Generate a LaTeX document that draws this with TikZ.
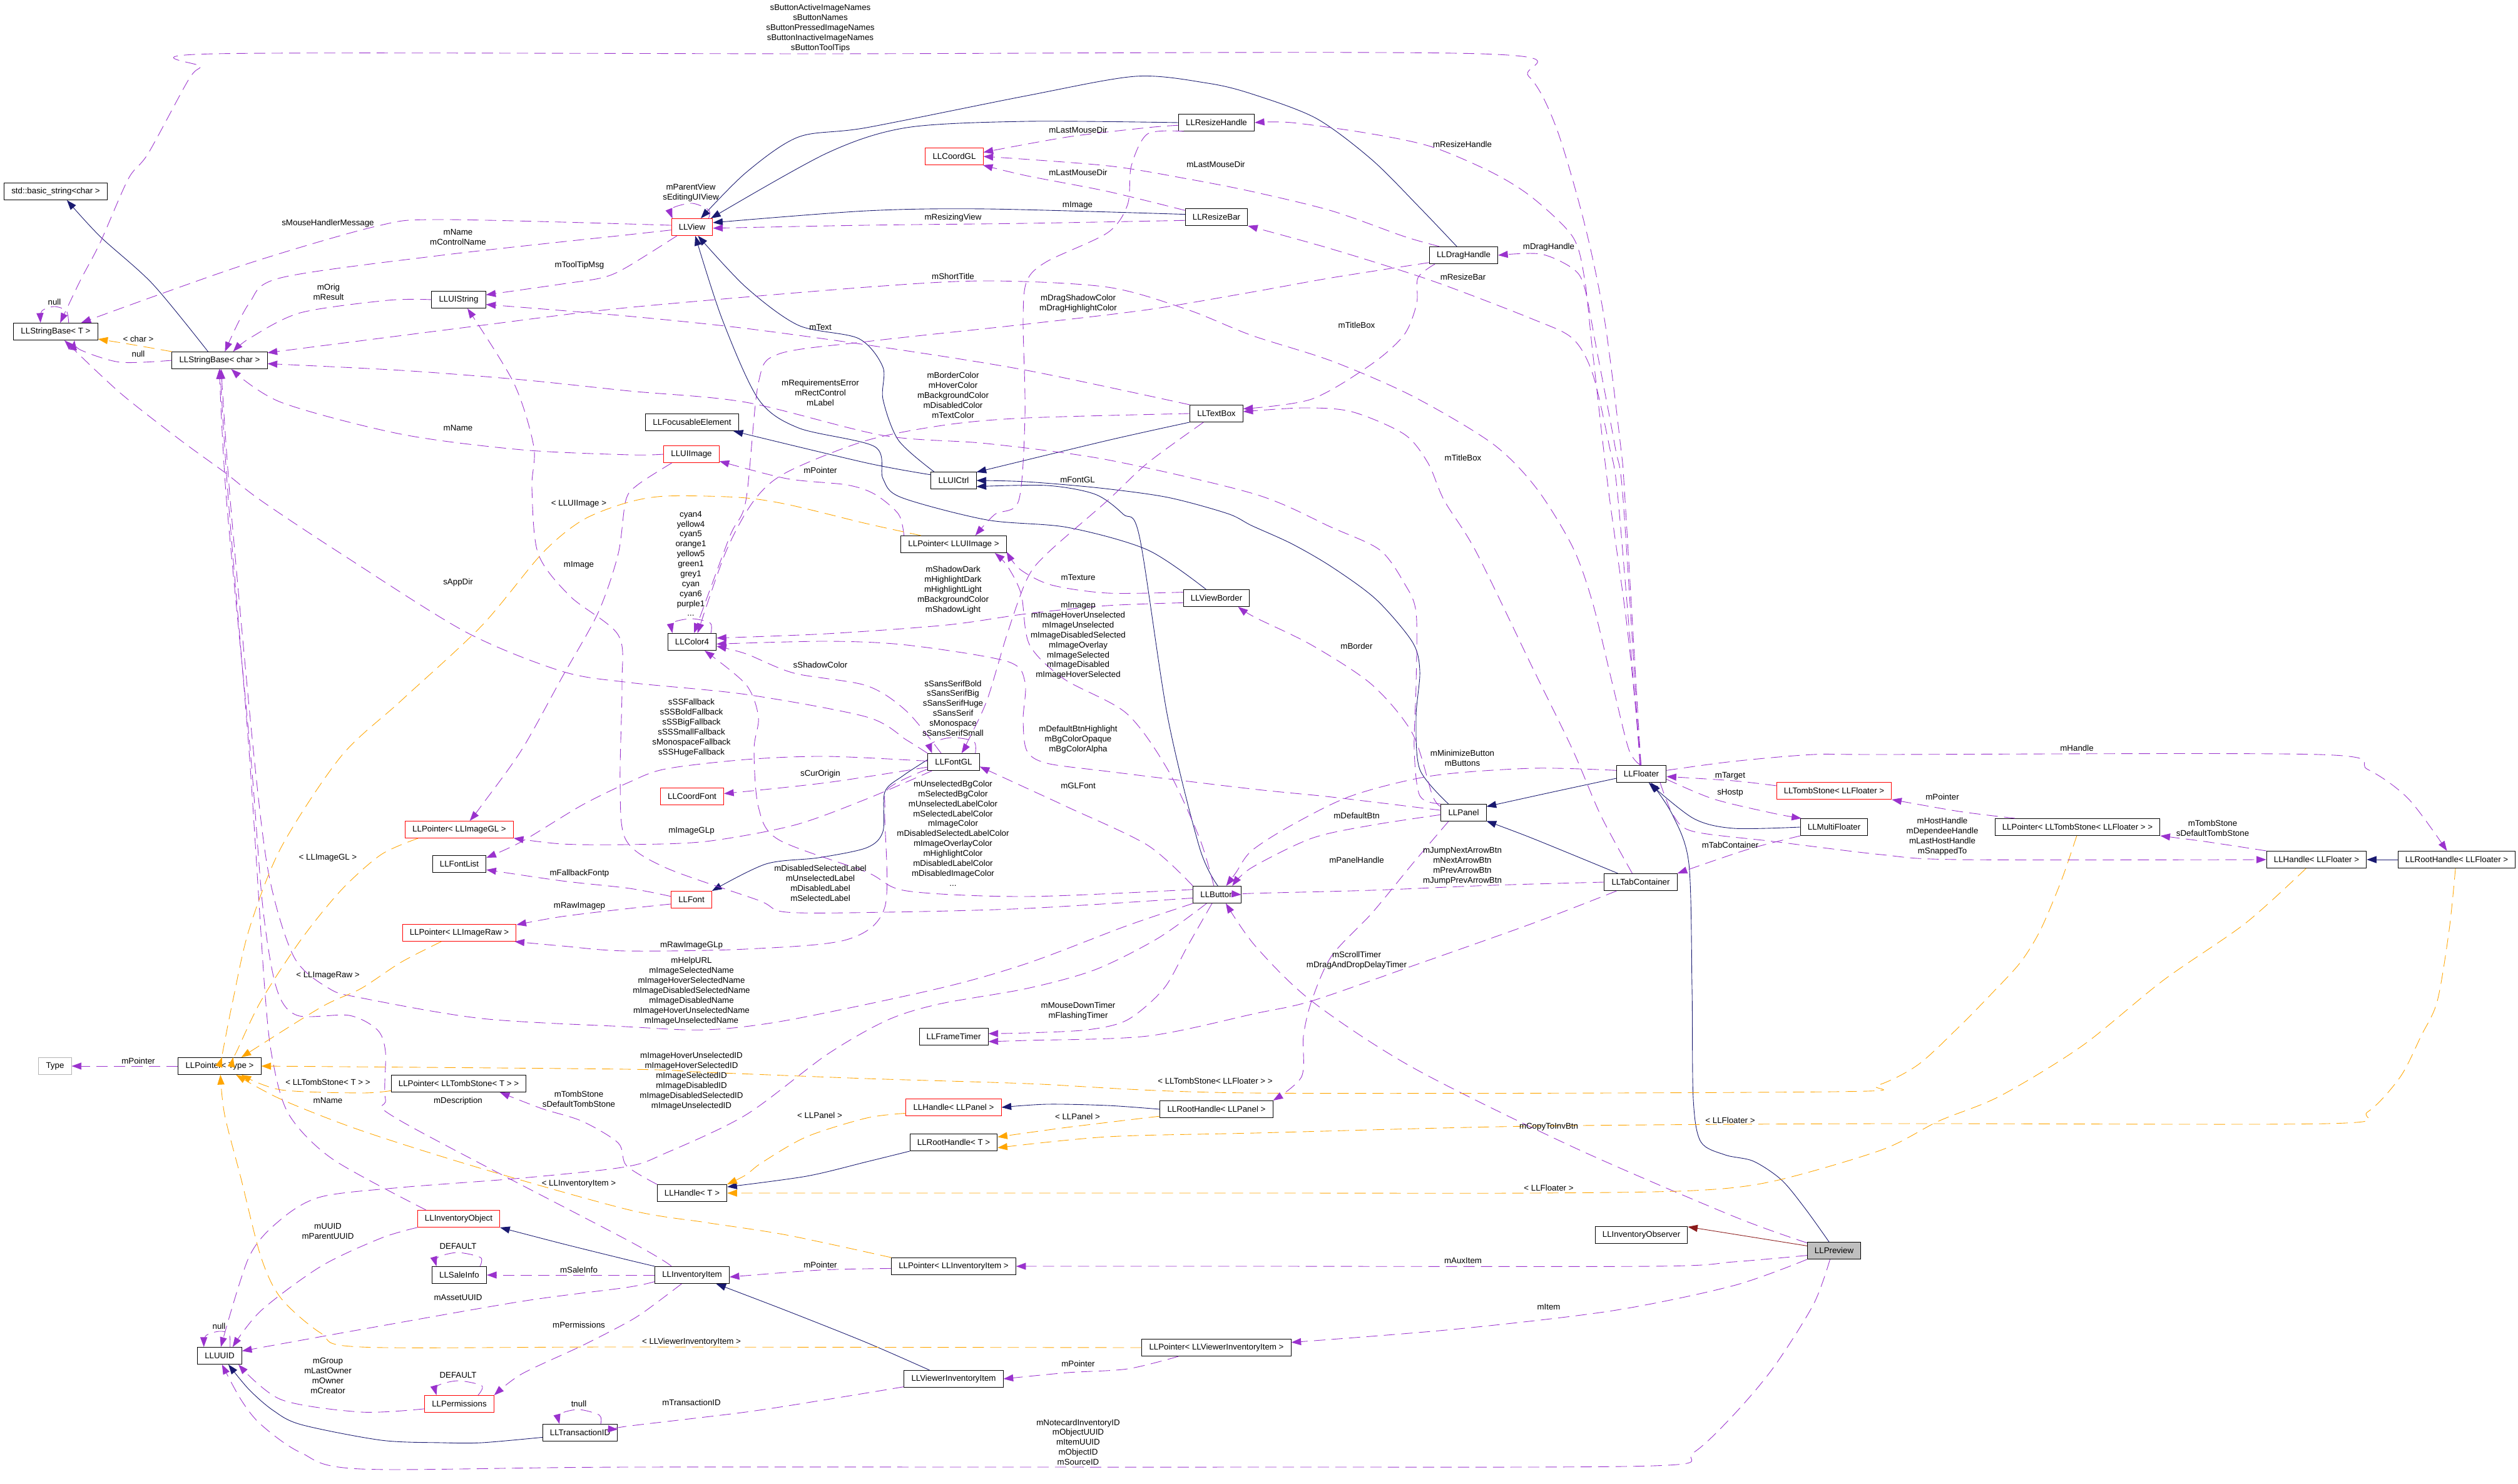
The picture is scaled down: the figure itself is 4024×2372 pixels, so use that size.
\documentclass[tikz,border=0pt]{standalone}
\usepackage{fontspec}
\setmainfont{Liberation Sans}
\usetikzlibrary{arrows.meta}
\definecolor{usecol}{RGB}{154,50,205}
\definecolor{inhcol}{RGB}{25,25,112}
\definecolor{tplcol}{RGB}{255,165,0}
\definecolor{prvcol}{RGB}{139,26,26}
\tikzset{
  cls/.style={draw, line width=0.25pt, inner xsep=2.9pt, inner ysep=0pt, minimum height=6.75pt, font=\fontsize{3.33}{4}\selectfont},
  redcls/.style={cls, draw=red},
  lbl/.style={inner sep=0pt, align=center, font=\fontsize{3.33}{3.97}\selectfont},
  wire/.style={line width=0.22pt, -{Triangle[length=3.9pt,width=2.8pt]}},
  usage/.style={wire, draw=usecol, dash pattern=on 4.5pt off 2.5pt},
  tmpl/.style={wire, draw=tplcol, dash pattern=on 4.5pt off 2.5pt},
  inherit/.style={wire, draw=inhcol},
  privinh/.style={wire, draw=prvcol},
}
\begin{document}
\begin{tikzpicture}[x=0.25pt,y=-0.25pt]
\useasboundingbox (0,0) rectangle (4024,2372);

\node[cls] (bstr) at (89,306) {std::basic\_string<char >};
\node[cls] (sbT) at (89,530) {LLStringBase< T >};
\node[cls] (sbChar) at (351,576) {LLStringBase< char >};
\node[cls] (uistr) at (733,479) {LLUIString};
\node[redcls] (view) at (1106,363) {LLView};
\node[redcls] (coordgl) at (1525,250) {LLCoordGL};
\node[cls] (rhandle) at (1944,196) {LLResizeHandle};
\node[cls] (rbar) at (1944,347) {LLResizeBar};
\node[cls] (drag) at (2339,408) {LLDragHandle};
\node[cls] (focus) at (1106,675) {LLFocusableElement};
\node[redcls] (uiimage) at (1105,726) {LLUIImage};
\node[cls] (textbox) at (1944,661) {LLTextBox};
\node[cls] (uictrl) at (1524,768) {LLUICtrl};
\node[cls] (ptrui) at (1524,870) {LLPointer< LLUIImage >};
\node[cls] (border) at (1944,956) {LLViewBorder};
\node[cls] (color) at (1106,1026) {LLColor4};
\node[cls] (fontgl) at (1524,1218) {LLFontGL};
\node[redcls] (coordfont) at (1106,1273) {LLCoordFont};
\node[redcls] (ptrgl) at (734,1326) {LLPointer< LLImageGL >};
\node[cls] (fontlist) at (734,1381) {LLFontList};
\node[redcls] (font) at (1105,1438) {LLFont};
\node[redcls] (ptrraw) at (734,1491) {LLPointer< LLImageRaw >};
\node[cls] (button) at (1945,1430) {LLButton};
\node[cls] (timer) at (1524,1657) {LLFrameTimer};
\node[redcls] (hpanel) at (1524,1770) {LLHandle< LLPanel >};
\node[cls] (rpanel) at (1944,1773) {LLRootHandle< LLPanel >};
\node[cls] (rootT) at (1524,1826) {LLRootHandle< T >};
\node[cls] (handleT) at (1106,1907) {LLHandle< T >};
\node[cls] (ptritem) at (1524,2024) {LLPointer< LLInventoryItem >};
\node[cls] (item) at (1106,2038) {LLInventoryItem};
\node[cls] (ptrvitem) at (1944,2154) {LLPointer< LLViewerInventoryItem >};
\node[cls] (vitem) at (1524,2204) {LLViewerInventoryItem};
\node[cls, draw=black!30] (type) at (88,1704) {Type};
\node[cls] (ptrtype) at (351,1704) {LLPointer< Type >};
\node[cls] (ptrtombT) at (733,1732) {LLPointer< LLTombStone< T > >};
\node[redcls] (invobj) at (733,1948) {LLInventoryObject};
\node[cls] (sale) at (734,2038) {LLSaleInfo};
\node[cls] (uuid) at (351,2167) {LLUUID};
\node[redcls] (perm) at (734,2244) {LLPermissions};
\node[cls] (transid) at (927,2290) {LLTransactionID};
\node[cls] (floater) at (2623,1237) {LLFloater};
\node[redcls] (tombfl) at (2931,1264) {LLTombStone< LLFloater >};
\node[cls] (panel) at (2339,1299) {LLPanel};
\node[cls] (multi) at (2931,1322) {LLMultiFloater};
\node[cls] (tabs) at (2622,1410) {LLTabContainer};
\node[cls] (ptrtombfl) at (3320,1322) {LLPointer< LLTombStone< LLFloater > >};
\node[cls] (hfloater) at (3702,1374) {LLHandle< LLFloater >};
\node[cls] (rfloater) at (3926,1374) {LLRootHandle< LLFloater >};
\node[cls] (observer) at (2623,1974) {LLInventoryObserver};
\node[cls, fill=black!25] (preview) at (2931,1999) {LLPreview};

% inheritance
\draw[inherit] plot[smooth] coordinates {(sbChar.143) (244,454) (160,378) (bstr.-38)};
\draw[inherit] plot[smooth] coordinates {(rhandle.west) (1641,194) (1449,204) (1321,245) (view.25)};
\draw[inherit] plot[smooth] coordinates {(drag.128) (2269,332) (2192,255) (2103,189) (2000,150) (1930,133) (1815,122) (1641,153) (1385,204) (1276,219) (1192,276) (view.45)};
\draw[inherit] plot[smooth] coordinates {(rbar.175) (1577,334) (1385,337) (view.12)};
\draw[inherit] plot[smooth] coordinates {(uictrl.156) (1436,704) (1411,638) (1411,587) (1372,541) (1276,520) (1192,459) (view.-56)};
\draw[inherit] plot[smooth] coordinates {(border.140) (1834,879) (1706,843) (1577,831) (1440,795) (1411,765) (1398,714) (1276,684) (1212,638) (1154,510) (view.-70)};
\draw[inherit] plot[smooth] coordinates {(uictrl.166) (1385,740) (focus.-12)};
\draw[inherit] plot[smooth] coordinates {(textbox.-162) (1770,704) (uictrl.20)};
\draw[inherit] plot[smooth] coordinates {(button.85) (1917,1355) (1866,1146) (1821,858) (1795,822) (1750,790) (1673,776) (uictrl.-15)};
\draw[inherit] plot[smooth] coordinates {(panel.150) (2269,1230) (2263,1146) (2269,1073) (2257,1026) (2199,958) (2128,906) (2064,869) (2000,840) (1962,821) (1866,795) (1757,780) (1640,770) (uictrl.0)};
\draw[inherit] plot[smooth] coordinates {(fontgl.175) (1443,1240) (1414,1266) (1411,1329) (1385,1355) (1308,1371) (1224,1381) (font.north east)};
\draw[inherit] plot[smooth] coordinates {(floater.-170) (2481,1266) (panel.15)};
\draw[inherit] plot[smooth] coordinates {(tabs.159) (2449,1340) (panel.-20)};
\draw[inherit] plot[smooth] coordinates {(multi.west) (2770,1324) (2706,1308) (floater.-50)};
\draw[inherit] plot[smooth] coordinates {(preview.120) (2885,1932) (2847,1886) (2802,1856) (2757,1846) (2718,1825) (2706,1757) (2704,1580) (2699,1381) (2673,1303) (floater.-42)};
\draw[inherit] (rfloater.west) -- (hfloater.east);
\draw[inherit] plot[smooth] coordinates {(rpanel.west) (1770,1767) (1673,1765) (hpanel.east)};
\draw[inherit] plot[smooth] coordinates {(rootT.south west) (1385,1857) (1289,1880) (handleT.10)};
\draw[inherit] plot[smooth] coordinates {(item.north west) (1000,2013) (899,1988) (invobj.south east)};
\draw[inherit] plot[smooth] coordinates {(vitem.160) (1385,2146) (1257,2095) (item.-20)};
\draw[inherit] plot[smooth] coordinates {(transid.-173) (770,2306) (706,2306) (609,2302) (481,2277) (436,2254) (398,2221) (uuid.-45)};
\draw[privinh] (preview.170) -- (observer.10);

% members
\draw[usage] plot[smooth] coordinates {(sbT.34) (106,497) (87,490) (67,497) (sbT.150)};
\draw[tmpl] plot[smooth] coordinates {(sbChar.north west) (212,551) (sbT.-10)};
\draw[usage] plot[smooth] coordinates {(sbChar.west) (192,579) (128,559) (sbT.-25)};
\draw[usage] plot[smooth] coordinates {(view.175) (706,351) (600,362) (385,425) (sbT.19)};
\draw[usage] plot[smooth] coordinates {(floater.93) (2597,800) (2590,714) (2564,510) (2532,357) (2487,204) (2443,122) (2366,86) (1311,86) (343,86) (321,107) (301,128) (237,245) (205,286) (160,388) (128,449) (sbT.63)};
\draw[usage] plot[smooth] coordinates {(fontgl.north west) (1449,1183) (1385,1146) (1192,1110) (1006,1091) (898,1073) (744,1010) (545,885) (417,800) (359,755) (289,704) (192,628) (sbT.-45)};
\draw[usage] plot[smooth] coordinates {(view.-172) (1006,375) (706,408) (449,444) (398,485) (sbChar.59)};
\draw[usage] plot[smooth] coordinates {(uistr.west) (620,480) (480,500) (400,540) (sbChar.33)};
\draw[usage] plot[smooth] coordinates {(floater.95) (2603,1198) (2577,1094) (2545,963) (2513,874) (2455,780) (2385,709) (2257,633) (2128,577) (2000,536) (1898,495) (1770,459) (1577,449) (1385,459) (1000,492) (770,520) (sbChar.9)};
\draw[usage] plot[smooth] coordinates {(panel.north west) (2269,1272) (2260,1198) (2263,1094) (2263,979) (2244,932) (2205,879) (2128,843) (2006,790) (1770,735) (1577,709) (1411,696) (1192,643) (1006,625) (834,607) (641,592) (sbChar.-4)};
\draw[usage] plot[smooth] coordinates {(uiimage.west) (1006,727) (834,719) (641,694) (449,643) (sbChar.-37)};
\draw[usage] plot[smooth] coordinates {(invobj.165) (532,1853) (462,1782) (436,1696) (423,1580) (398,1200) (365,800) (sbChar.-88)};
\draw[usage] plot[smooth] coordinates {(item.157) (1006,1984) (641,1792) (616,1757) (616,1681) (603,1646) (558,1623) (475,1623) (442,1580) (420,1450) (400,1200) (362,800) (sbChar.-92)};
\draw[usage] plot[smooth] coordinates {(button.-160) (1800,1480) (1641,1540) (1500,1580) (1257,1631) (1128,1646) (1000,1641) (770,1628) (577,1595) (526,1580) (470,1530) (430,1400) (405,1200) (368,800) (sbChar.-80)};
\draw[usage] plot[smooth] coordinates {(view.-150) (1000,428) (962,444) (898,454) (uistr.10)};
\draw[usage] plot[smooth] coordinates {(textbox.north west) (1641,592) (1417,556) (1192,525) (1000,505) (uistr.-10)};
\draw[usage] plot[smooth] coordinates {(button.-172) (1641,1452) (1417,1458) (1257,1458) (1212,1439) (1064,1387) (1000,1342) (991,1251) (994,1094) (988,1015) (911,953) (860,885) (850,780) (853,714) (821,612) (uistr.-45)};
\draw[usage] plot[smooth] coordinates {(button.168) (1641,1433) (1449,1424) (1385,1394) (1244,1342) (1212,1290) (1205,1198) (1212,1146) (1192,1094) (color.-35)};
\draw[usage] plot[smooth] coordinates {(view.28) (1133,336) (1106,325) (1074,333) (view.156)};
\draw[usage] plot[smooth] coordinates {(rbar.-174) (1641,357) (1385,360) (view.-3)};
\draw[usage] plot[smooth] coordinates {(rhandle.-176) (1834,204) (1706,219) (coordgl.8)};
\draw[usage] plot[smooth] coordinates {(rbar.168) (1770,306) (1641,281) (coordgl.-17)};
\draw[usage] plot[smooth] coordinates {(drag.160) (2244,378) (2128,337) (2000,306) (1898,286) (1770,265) (coordgl.0)};
\draw[usage] plot[smooth] coordinates {(floater.91) (2600,1000) (2570,780) (2545,561) (2532,444) (2513,378) (2449,316) (2385,276) (2289,235) (2192,214) (2064,196) (rhandle.east)};
\draw[usage] plot[smooth] coordinates {(floater.97) (2586,800) (2572,714) (2545,597) (2513,541) (2449,510) (2289,449) (2128,398) (rbar.south east)};
\draw[usage] plot[smooth] coordinates {(floater.99) (2594,800) (2581,714) (2552,561) (2532,459) (2513,429) (2462,406) (drag.east)};
\draw[usage] plot[smooth] coordinates {(drag.-163) (2266,444) (2264,485) (2244,535) (2192,582) (2096,638) (textbox.10)};
\draw[usage] plot[smooth] coordinates {(tabs.134) (2558,1303) (2513,1198) (2449,1067) (2359,882) (2308,800) (2282,740) (2244,694) (2160,658) (2083,652) (textbox.4)};
\draw[usage] plot[smooth] coordinates {(color.25) (1135,996) (1106,989) (1076,995) (color.156)};
\draw[usage] plot[smooth] coordinates {(drag.-168) (2128,444) (2000,467) (1834,495) (1641,518) (1385,546) (1244,566) (1212,612) (1192,800) (1166,858) (color.77)};
\draw[usage] plot[smooth] coordinates {(textbox.west) (1641,668) (1513,679) (1385,704) (1257,755) (1205,800) (1160,882) (color.58)};
\draw[usage] plot[smooth] coordinates {(border.-172) (1770,968) (1641,981) (1513,999) (1321,1013) (color.9)};
\draw[usage] plot[smooth] coordinates {(panel.174) (2128,1274) (2000,1261) (1770,1233) (1673,1220) (1641,1200) (1635,1150) (1638,1090) (1609,1057) (1449,1031) (1321,1025) (color.-5)};
\draw[usage] plot[smooth] coordinates {(fontgl.145) (1449,1137) (1385,1096) (1269,1076) (1192,1045) (color.-10)};
\draw[usage] plot[smooth] coordinates {(textbox.-146) (1834,740) (1770,800) (1673,885) (1641,926) (1609,1015) (1577,1120) (1545,1188) (fontgl.48)};
\draw[usage] plot[smooth] coordinates {(fontgl.22) (1556,1185) (1520,1179) (1489,1188) (fontgl.158)};
\draw[usage] plot[smooth] coordinates {(button.north west) (1834,1351) (1706,1290) (1641,1260) (fontgl.-10)};
\draw[usage] plot[smooth] coordinates {(fontgl.178) (1321,1209) (1192,1214) (1064,1229) (1006,1250) (930,1287) (834,1345) (fontlist.13)};
\draw[usage] plot[smooth] coordinates {(font.171) (1006,1420) (898,1408) (fontlist.-12)};
\draw[usage] plot[smooth] coordinates {(fontgl.-169) (1321,1251) (coordfont.5)};
\draw[usage] plot[smooth] coordinates {(fontgl.-158) (1385,1277) (1269,1319) (1128,1345) (1000,1350) (898,1349) (ptrgl.-9)};
\draw[usage] plot[smooth] coordinates {(uiimage.-156) (1019,775) (1000,800) (988,885) (956,979) (898,1083) (834,1198) (770,1287) (ptrgl.40)};
\draw[usage] plot[smooth] coordinates {(font.-168) (1006,1452) (898,1465) (ptrraw.8)};
\draw[usage] plot[smooth] coordinates {(fontgl.-165) (1420,1260) (1414,1300) (1414,1450) (1353,1502) (1192,1517) (1000,1520) (898,1512) (ptrraw.-9)};
\draw[usage] plot[smooth] coordinates {(ptrui.170) (1436,822) (1398,790) (1353,775) (1257,765) (uiimage.-14)};
\draw[tmpl] plot[smooth] coordinates {(ptrui.165) (1385,837) (1257,806) (1180,795) (1064,793) (1000,804) (930,832) (866,885) (770,1000) (641,1120) (545,1209) (449,1355) (398,1486) (372,1600) (356,1681) (ptrtype.75)};
\draw[tmpl] plot[smooth] coordinates {(ptrgl.-168) (609,1366) (545,1423) (481,1502) (417,1600) (378,1681) (ptrtype.33)};
\draw[tmpl] plot[smooth] coordinates {(ptrraw.-154) (641,1538) (577,1580) (513,1610) (ptrtype.22)};
\draw[usage] plot[smooth] coordinates {(border.170) (1770,948) (1680,935) (1630,910) (ptrui.-8)};
\draw[usage] plot[smooth] coordinates {(button.110) (1917,1340) (1866,1230) (1800,1140) (1700,1085) (1645,1030) (1632,950) (1610,905) (ptrui.-12)};
\draw[usage] plot[smooth] coordinates {(rhandle.-165) (1834,214) (1808,265) (1802,327) (1770,372) (1673,418) (1641,449) (1635,510) (1638,663) (1628,800) (1590,822) (ptrui.22)};
\draw[usage] plot[smooth] coordinates {(panel.165) (2289,1271) (2257,1172) (2192,1094) (2096,1031) (2006,987) (border.-22)};
\draw[usage] plot[smooth] coordinates {(floater.172) (2449,1228) (2289,1240) (2160,1272) (2064,1319) (2000,1360) (1975,1395) (button.44)};
\draw[usage] plot[smooth] coordinates {(panel.-175) (2192,1319) (2096,1340) (2000,1387) (button.30)};
\draw[usage] plot[smooth] coordinates {(panel.-150) (2257,1381) (2192,1460) (2128,1528) (2096,1600) (2083,1656) (2080,1721) (rpanel.north east)};
\draw[usage] plot[smooth] coordinates {(tabs.west) (2385,1415) (2192,1423) (2000,1428) (button.east)};
\draw[usage] plot[smooth] coordinates {(preview.164) (2770,1944) (2513,1833) (2257,1706) (2096,1600) (2006,1512) (button.-45)};
\draw[usage] plot[smooth] coordinates {(button.-120) (1898,1512) (1860,1580) (1802,1630) (1738,1646) (1641,1651) (timer.5)};
\draw[usage] plot[smooth] coordinates {(tabs.-160) (2449,1476) (2257,1544) (2096,1600) (2006,1620) (1834,1656) (1641,1663) (timer.-8)};
\draw[usage] plot[smooth] coordinates {(button.-140) (1850,1500) (1750,1550) (1641,1580) (1500,1605) (1417,1631) (1321,1686) (1192,1782) (1064,1843) (1000,1865) (834,1883) (641,1898) (513,1913) (449,1949) (398,2009) (uuid.82)};
\draw[tmpl] plot[smooth] coordinates {(hpanel.-173) (1385,1787) (1289,1817) (1218,1858) (1192,1878) (handleT.north east)};
\draw[tmpl] plot[smooth] coordinates {(rpanel.-173) (1705,1802) (rootT.7)};
\draw[tmpl] plot[smooth] coordinates {(rfloater.-98) (3914,1486) (3895,1600) (3869,1656) (3836,1721) (3784,1777) (3719,1796) (3006,1796) (2449,1800) (2006,1811) (1770,1817) (rootT.-7)};
\draw[tmpl] plot[smooth] coordinates {(hfloater.-140) (3588,1476) (3457,1567) (3327,1672) (3196,1752) (3098,1792) (3007,1838) (2834,1888) (2706,1903) (2449,1907) (2006,1907) (handleT.east)};
\draw[tmpl] plot[smooth] coordinates {(ptrtombfl.-95) (3294,1408) (3261,1486) (3229,1538) (3183,1588) (3131,1641) (3065,1702) (3000,1735) (2930,1745) (2000,1747) (1641,1732) (1385,1724) (1128,1714) (1000,1709) (ptrtype.east)};
\draw[tmpl] plot[smooth] coordinates {(ptrtombT.-174) (577,1747) (449,1742) (ptrtype.-22)};
\draw[tmpl] plot[smooth] coordinates {(ptritem.north west) (1257,1974) (1128,1954) (1006,1934) (770,1868) (577,1807) (449,1757) (ptrtype.-28)};
\draw[tmpl] plot[smooth] coordinates {(ptrvitem.west) (1000,2153) (577,2153) (513,2131) (449,2075) (417,2009) (385,1883) (359,1782) (ptrtype.-85)};
\draw[usage] (ptrtype.west) -- (type.east);
\draw[usage] plot[smooth] coordinates {(handleT.north west) (1001,1863) (988,1827) (930,1792) (866,1772) (ptrtombT.-12)};
\draw[usage] plot[smooth] coordinates {(invobj.south west) (609,1979) (513,2024) (417,2095) (uuid.34)};
\draw[usage] plot[smooth] coordinates {(uuid.40) (366,2132) (350,2128) (329,2135) (uuid.151)};
\draw[usage] plot[smooth] coordinates {(item.-170) (1000,2058) (834,2080) (577,2125) (uuid.12)};
\draw[usage] plot[smooth] coordinates {(perm.-172) (577,2257) (449,2237) (uuid.-25)};
\draw[usage] plot[smooth] coordinates {(preview.-115) (2898,2085) (2834,2186) (2770,2262) (2706,2322) (2641,2343) (2000,2345) (1006,2345) (577,2348) (481,2322) (417,2277) (385,2237) (uuid.-75)};
\draw[usage] (item.west) -- (sale.east);
\draw[usage] plot[smooth] coordinates {(sale.23) (768,2010) (731,2002) (699,2010) (sale.159)};
\draw[usage] plot[smooth] coordinates {(item.-140) (1032,2095) (1000,2115) (930,2151) (834,2196) (perm.14)};
\draw[usage] plot[smooth] coordinates {(perm.25) (770,2215) (732,2207) (699,2215) (perm.159)};
\draw[usage] plot[smooth] coordinates {(transid.23) (958,2262) (925,2253) (895,2260) (transid.157)};
\draw[usage] plot[smooth] coordinates {(vitem.-171) (1321,2237) (1192,2257) (1000,2280) (transid.5)};
\draw[usage] plot[smooth] coordinates {(ptritem.-178) (1311,2030) (item.-3)};
\draw[usage] plot[smooth] coordinates {(ptrvitem.-167) (1802,2188) (1706,2194) (vitem.east)};
\draw[usage] plot[smooth] coordinates {(preview.-170) (2770,2017) (2641,2024) (2000,2024) (ptritem.east)};
\draw[usage] plot[smooth] coordinates {(preview.south west) (2770,2055) (2577,2095) (2321,2125) (ptrvitem.4)};
\draw[usage] plot[smooth] coordinates {(ptrtombfl.172) (3131,1297) (tombfl.south east)};
\draw[usage] plot[smooth] coordinates {(tombfl.175) (2770,1248) (floater.-6)};
\draw[usage] plot[smooth] coordinates {(floater.-12) (2738,1277) (2834,1300) (multi.165)};
\draw[usage] plot[smooth] coordinates {(multi.south west) (2802,1355) (2738,1376) (tabs.north east)};
\draw[usage] plot[smooth] coordinates {(floater.-25) (2674,1303) (2706,1329) (2834,1345) (3006,1366) (3131,1374) (hfloater.west)};
\draw[usage] plot[smooth] coordinates {(hfloater.north west) (3523,1345) (ptrtombfl.south east)};
\draw[usage] plot[smooth] coordinates {(floater.8) (2770,1217) (2898,1206) (3006,1206) (3705,1206) (3784,1230) (3849,1277) (rfloater.138)};

% labels
\node[lbl] (l1) at (87,483) {null};
\node[lbl] (l2) at (221,542) {< char >};
\node[lbl] (l3) at (221,566) {null};
\node[lbl] (l4) at (524,357) {sMouseHandlerMessage};
\node[lbl] (l5) at (732,379) {mName\\mControlName};
\node[lbl] (l6) at (926,424) {mToolTipMsg};
\node[lbl] (l7) at (525,467) {mOrig\\mResult};
\node[lbl] (l8) at (732,684) {mName};
\node[lbl] (l9) at (1311,45) {sButtonActiveImageNames\\sButtonNames\\sButtonPressedImageNames\\sButtonInactiveImageNames\\sButtonToolTips};
\node[lbl] (l10) at (1104,308) {mParentView\\sEditingUIView};
\node[lbl] (l11) at (1723,208) {mLastMouseDir};
\node[lbl] (l12) at (1723,276) {mLastMouseDir};
\node[lbl] (l13) at (1943,263) {mLastMouseDir};
\node[lbl] (l14) at (1722,328) {mImage};
\node[lbl] (l15) at (1523,348) {mResizingView};
\node[lbl] (l16) at (1523,442) {mShortTitle};
\node[lbl] (l17) at (1723,485) {mDragShadowColor\\mDragHighlightColor};
\node[lbl] (l18) at (1311,523) {mText};
\node[lbl] (l19) at (1311,628) {mRequirementsError\\mRectControl\\mLabel};
\node[lbl] (l20) at (1523,632) {mBorderColor\\mHoverColor\\mBackgroundColor\\mDisabledColor\\mTextColor};
\node[lbl] (l21) at (1311,752) {mPointer};
\node[lbl] (l22) at (1722,767) {mFontGL};
\node[lbl] (l23) at (2337,231) {mResizeHandle};
\node[lbl] (l24) at (2475,395) {mDragHandle};
\node[lbl] (l25) at (2338,443) {mResizeBar};
\node[lbl] (l26) at (2168,520) {mTitleBox};
\node[lbl] (l27) at (2338,732) {mTitleBox};
\node[lbl] (l28) at (925,805) {< LLUIImage >};
\node[lbl] (l29) at (925,903) {mImage};
\node[lbl] (l30) at (732,931) {sAppDir};
\node[lbl] (l31) at (524,1371) {< LLImageGL >};
\node[lbl] (l32) at (926,1396) {mFallbackFontp};
\node[lbl] (l33) at (926,1448) {mRawImagep};
\node[lbl] (l34) at (524,1559) {< LLImageRaw >};
\node[lbl] (l35) at (1104,901) {cyan4\\yellow4\\cyan5\\orange1\\yellow5\\green1\\grey1\\cyan\\cyan6\\purple1\\...};
\node[lbl] (l36) at (1523,943) {mShadowDark\\mHighlightDark\\mHighlightLight\\mBackgroundColor\\mShadowLight};
\node[lbl] (l37) at (1723,923) {mTexture};
\node[lbl] (l38) at (1723,1024) {mImagep\\mImageHoverUnselected\\mImageUnselected\\mImageDisabledSelected\\mImageOverlay\\mImageSelected\\mImageDisabled\\mImageHoverSelected};
\node[lbl] (l39) at (1311,1063) {sShadowColor};
\node[lbl] (l40) at (1523,1132) {sSansSerifBold\\sSansSerifBig\\sSansSerifHuge\\sSansSerif\\sMonospace\\sSansSerifSmall};
\node[lbl] (l41) at (1105,1163) {sSSFallback\\sSSBoldFallback\\sSSBigFallback\\sSSSmallFallback\\sMonospaceFallback\\sSSHugeFallback};
\node[lbl] (l42) at (1723,1182) {mDefaultBtnHighlight\\mBgColorOpaque\\mBgColorAlpha};
\node[lbl] (l43) at (1311,1237) {sCurOrigin};
\node[lbl] (l44) at (1723,1256) {mGLFont};
\node[lbl] (l45) at (1523,1332) {mUnselectedBgColor\\mSelectedBgColor\\mUnselectedLabelColor\\mSelectedLabelColor\\mImageColor\\mDisabledSelectedLabelColor\\mImageOverlayColor\\mHighlightColor\\mDisabledLabelColor\\mDisabledImageColor\\...};
\node[lbl] (l46) at (1105,1328) {mImageGLp};
\node[lbl] (l47) at (1311,1412) {mDisabledSelectedLabel\\mUnselectedLabel\\mDisabledLabel\\mSelectedLabel};
\node[lbl] (l48) at (1105,1511) {mRawImageGLp};
\node[lbl] (l49) at (1105,1584) {mHelpURL\\mImageSelectedName\\mImageHoverSelectedName\\mImageDisabledSelectedName\\mImageDisabledName\\mImageHoverUnselectedName\\mImageUnselectedName};
\node[lbl] (l50) at (1723,1616) {mMouseDownTimer\\mFlashingTimer};
\node[lbl] (l51) at (1105,1728) {mImageHoverUnselectedID\\mImageHoverSelectedID\\mImageSelectedID\\mImageDisabledID\\mImageDisabledSelectedID\\mImageUnselectedID};
\node[lbl] (l52) at (1942,1728) {< LLTombStone< LLFloater > >};
\node[lbl] (l53) at (1310,1783) {< LLPanel >};
\node[lbl] (l54) at (1722,1785) {< LLPanel >};
\node[lbl] (l55) at (221,1696) {mPointer};
\node[lbl] (l56) at (524,1730) {< LLTombStone< T > >};
\node[lbl] (l57) at (524,1759) {mName};
\node[lbl] (l58) at (732,1760) {mDescription};
\node[lbl] (l59) at (925,1757) {mTombStone\\sDefaultTombStone};
\node[lbl] (l60) at (925,1892) {< LLInventoryItem >};
\node[lbl] (l61) at (524,1968) {mUUID\\mParentUUID};
\node[lbl] (l62) at (732,1992) {DEFAULT};
\node[lbl] (l63) at (925,2030) {mSaleInfo};
\node[lbl] (l64) at (732,2074) {mAssetUUID};
\node[lbl] (l65) at (925,2118) {mPermissions};
\node[lbl] (l66) at (350,2120) {null};
\node[lbl] (l67) at (524,2199) {mGroup\\mLastOwner\\mOwner\\mCreator};
\node[lbl] (l68) at (732,2198) {DEFAULT};
\node[lbl] (l69) at (925,2244) {tnull};
\node[lbl] (l70) at (1311,2022) {mPointer};
\node[lbl] (l71) at (1105,2145) {< LLViewerInventoryItem >};
\node[lbl] (l72) at (1723,2180) {mPointer};
\node[lbl] (l73) at (1105,2242) {mTransactionID};
\node[lbl] (l74) at (1723,2305) {mNotecardInventoryID\\mObjectUUID\\mItemUUID\\mObjectID\\mSourceID};
\node[lbl] (l75) at (2168,1033) {mBorder};
\node[lbl] (l76) at (2337,1212) {mMinimizeButton\\mButtons};
\node[lbl] (l77) at (2765,1240) {mTarget};
\node[lbl] (l78) at (2765,1267) {sHostp};
\node[lbl] (l79) at (2168,1304) {mDefaultBtn};
\node[lbl] (l80) at (2765,1351) {mTabContainer};
\node[lbl] (l81) at (2168,1375) {mPanelHandle};
\node[lbl] (l82) at (2337,1384) {mJumpNextArrowBtn\\mNextArrowBtn\\mPrevArrowBtn\\mJumpPrevArrowBtn};
\node[lbl] (l83) at (2168,1535) {mScrollTimer\\mDragAndDropDelayTimer};
\node[lbl] (l84) at (3319,1196) {mHandle};
\node[lbl] (l85) at (3104,1274) {mPointer};
\node[lbl] (l86) at (3104,1337) {mHostHandle\\mDependeeHandle\\mLastHostHandle\\mSnappedTo};
\node[lbl] (l87) at (3536,1324) {mTombStone\\sDefaultTombStone};
\node[lbl] (l88) at (2475,1801) {mCopyToInvBtn};
\node[lbl] (l89) at (2765,1791) {< LLFloater >};
\node[lbl] (l90) at (2475,1899) {< LLFloater >};
\node[lbl] (l91) at (2338,2015) {mAuxItem};
\node[lbl] (l92) at (2475,2089) {mItem};
\end{tikzpicture}
\end{document}
